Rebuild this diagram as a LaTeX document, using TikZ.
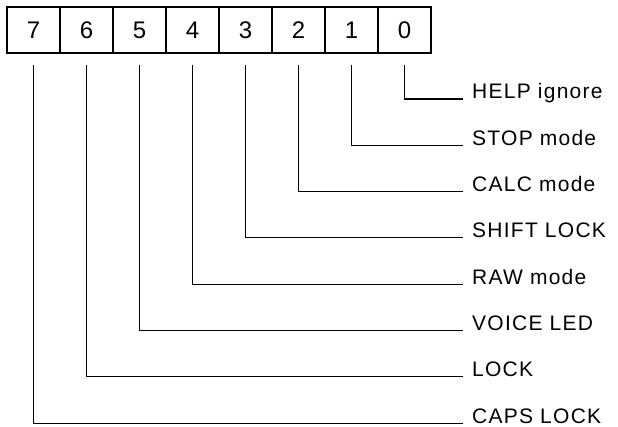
\documentclass[tikz,border=0pt]{standalone}
\usepackage{fontspec}
\setmainfont{Liberation Sans}
\newfontfamily\bitfont[LetterSpace=6]{Liberation Sans}
\usetikzlibrary{positioning}
\tikzset{
  bit_box/.style = {draw=black, line width=1.2pt, outer sep=0pt, inner sep=0pt,
    minimum width=53pt, minimum height=46pt,
    font=\fontsize{24}{24}\selectfont},% case du registre
  bit_label/.style = {anchor=base west, inner sep=0pt,
    font=\bitfont\fontsize{21}{21}\selectfont},% nom du bit
  bit_line/.style = {line width=1.1pt}% trait de rappel
}
\begin{document}
\begin{tikzpicture}[x=1pt, y=1pt]
  \useasboundingbox (0,0) rectangle (618,427);
  % registre, bit 7 a gauche
  \foreach \i in {7,...,0}
    \node [bit_box] (b\i) at ({33.5+53*(7-\i)},397) {\i};
  % noms des bits
  \foreach \i/\txt in {0/HELP ignore, 1/STOP mode, 2/CALC mode,
      3/SHIFT LOCK, 4/RAW mode, 5/VOICE LED, 6/LOCK, 7/CAPS LOCK}
  {
    \node [bit_label] (l\i) at (472,{328-46.3*\i}) {\txt};
    \draw [bit_line] ([yshift=-12pt]b\i.south) |- ([xshift=-9pt]l\i.base west);
  }
\end{tikzpicture}
\end{document}
